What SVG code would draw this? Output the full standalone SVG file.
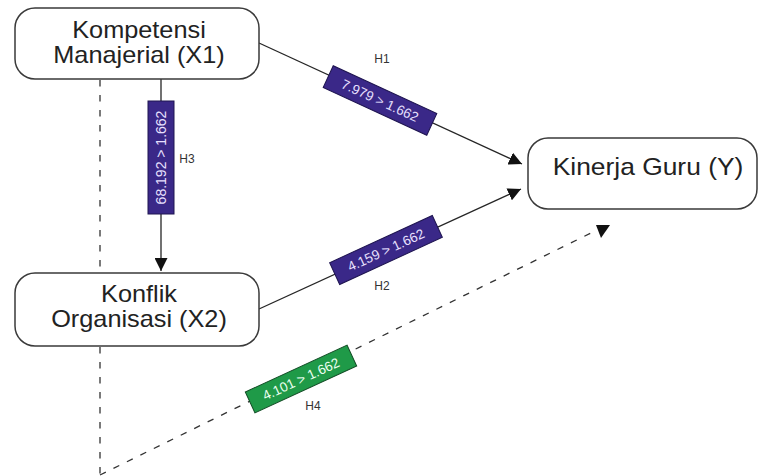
<svg xmlns="http://www.w3.org/2000/svg" width="759" height="476" viewBox="0 0 759 476">
<style>
.node rect{fill:#fff;stroke:#3a3a3a;stroke-width:1.5}
.nt{font-family:"Liberation Sans",Arial,sans-serif;font-size:23px;fill:#222;text-anchor:middle}
.ln{stroke:#262626;stroke-width:1.3;fill:none}
.dash{stroke:#333;stroke-width:1.3;fill:none;stroke-dasharray:6.5 8.5}
.bp{fill:#3a2888;stroke:#1e1450;stroke-width:1}
.bg{fill:#1f9a48;stroke:#0f4a22;stroke-width:1}
.bt{font-family:"Liberation Sans",Arial,sans-serif;font-size:13.5px;text-anchor:middle}
.hl{font-family:"Liberation Sans",Arial,sans-serif;font-size:12px;fill:#333;text-anchor:middle}
</style>
<defs>
<marker id="arr" markerUnits="userSpaceOnUse" markerWidth="13" markerHeight="13" refX="13" refY="6.5" orient="auto">
<path d="M0,0 L13,6.5 L0,13 Z" fill="#111"/>
</marker>
</defs>
<g id="connectors">
<line class="ln" x1="259" y1="43" x2="522" y2="164" marker-end="url(#arr)"/>
<line class="ln" x1="161" y1="79" x2="161" y2="271" marker-end="url(#arr)"/>
<line class="ln" x1="259" y1="309" x2="521" y2="189" marker-end="url(#arr)"/>
<line class="dash" x1="100" y1="80" x2="100" y2="273"/>
<line class="dash" x1="100" y1="347" x2="100" y2="476"/>
<line class="dash" x1="100" y1="475" x2="591" y2="233"/>
<polygon points="596,225 610,225 601,238" fill="#111"/>
</g>
<g id="label-h1">
<g transform="translate(380,100.5) rotate(24.7)">
<rect class="bp" x="-57" y="-12" width="114" height="24"/>
<text class="bt" x="0" y="4.7" fill="#e8e0ff">7.979 &gt; 1.662</text>
</g>
<text class="hl" x="382" y="63">H1</text>
</g>
<g id="label-h2">
<g transform="translate(386,250) rotate(-24.7)">
<rect class="bp" x="-56.5" y="-12" width="113" height="24"/>
<text class="bt" x="0" y="4.7" fill="#e8e0ff">4.159 &gt; 1.662</text>
</g>
<text class="hl" x="382" y="290">H2</text>
</g>
<g id="label-h3">
<g transform="translate(161,157.5) rotate(-90)">
<rect class="bp" x="-56.5" y="-13" width="113" height="26"/>
<text class="bt" x="0" y="5" fill="#e8e0ff" style="font-size:14px">68.192 &gt; 1.662</text>
</g>
<text class="hl" x="187" y="163">H3</text>
</g>
<g id="label-h4">
<g transform="translate(301,379) rotate(-24.7)">
<rect class="bg" x="-56" y="-11.5" width="112" height="23"/>
<text class="bt" x="0" y="4.7" fill="#eafff0">4.101 &gt; 1.662</text>
</g>
<text class="hl" x="313" y="410">H4</text>
</g>
<g id="node-x1" class="node">
<rect x="15" y="8" width="244" height="71" rx="20" ry="20"/>
<g transform="translate(139,0) scale(1.1,1)">
<text class="nt" x="0" y="38.3">Kompetensi</text>
<text class="nt" x="0" y="63.3">Manajerial (X1)</text>
</g>
</g>
<g id="node-x2" class="node">
<rect x="15" y="273" width="244" height="73" rx="20" ry="20"/>
<g transform="translate(139,0) scale(1.1,1)">
<text class="nt" x="0" y="301.7">Konflik</text>
<text class="nt" x="0" y="327.5">Organisasi (X2)</text>
</g>
</g>
<g id="node-y" class="node">
<rect x="528" y="138" width="229" height="71" rx="20" ry="20"/>
<g transform="translate(648,0) scale(1.1,1)">
<text class="nt" x="0" y="175" style="font-size:24px">Kinerja Guru (Y)</text>
</g>
</g>
</svg>
